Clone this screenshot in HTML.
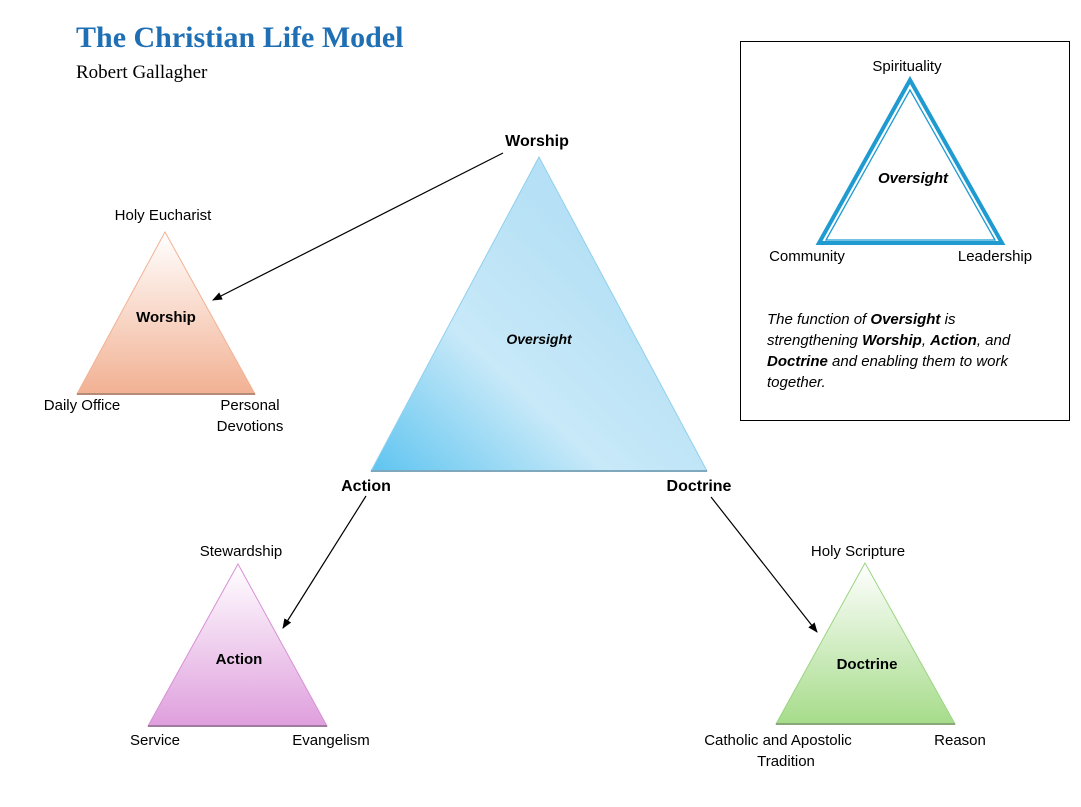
<!DOCTYPE html>
<html><head><style>
body{margin:0;background:#fff;}
svg text{font-family:"Liberation Sans",sans-serif;fill:#000;}
</style></head><body>
<svg width="1081" height="802" viewBox="0 0 1081 802" xmlns="http://www.w3.org/2000/svg">
<defs>
<linearGradient id="gb" x1="0" y1="1" x2="0.7" y2="0.3"><stop offset="0" stop-color="#5ec4f0"/><stop offset="0.5" stop-color="#c8e9f8"/><stop offset="1" stop-color="#b5e0f5"/></linearGradient>
<linearGradient id="go" x1="0" y1="0" x2="0" y2="1"><stop offset="0" stop-color="#fff"/><stop offset="1" stop-color="#f2b193"/></linearGradient>
<linearGradient id="gp" x1="0" y1="0" x2="0" y2="1"><stop offset="0" stop-color="#fff"/><stop offset="1" stop-color="#df9fdd"/></linearGradient>
<linearGradient id="gg" x1="0" y1="0" x2="0" y2="1"><stop offset="0" stop-color="#fff"/><stop offset="1" stop-color="#a6dc8a"/></linearGradient>
<marker id="ar" markerWidth="10" markerHeight="8" refX="9" refY="4" orient="auto" markerUnits="userSpaceOnUse"><path d="M0,0 L10,4 L0,8 z" fill="#000"/></marker>
</defs>
<text x="76" y="47" style="font-family:'Liberation Serif',serif;font-weight:bold;font-size:30px;fill:#1f6fb5">The Christian Life Model</text>
<text x="76" y="78" style="font-family:'Liberation Serif',serif;font-size:19px">Robert Gallagher</text>

<polygon points="539,157 371,471 707,471" fill="url(#gb)" stroke="#8fd0ef" stroke-width="1"/>
<line x1="371" y1="471" x2="707" y2="471" stroke="#7fa8bd" stroke-width="2"/>
<text x="539" y="344" font-size="14" font-weight="bold" font-style="italic" text-anchor="middle">Oversight</text>
<text x="537" y="146" font-size="16" font-weight="bold" text-anchor="middle">Worship</text>
<text x="366" y="491" font-size="16" font-weight="bold" text-anchor="middle">Action</text>
<text x="699" y="491" font-size="16" font-weight="bold" text-anchor="middle">Doctrine</text>

<polygon points="165,232 77,394 255,394" fill="url(#go)" stroke="#f2b193"/>
<line x1="77" y1="394" x2="255" y2="394" stroke="#b58a78" stroke-width="2"/>
<text x="166" y="322" font-size="15" font-weight="bold" text-anchor="middle">Worship</text>
<text x="163" y="220" font-size="15" text-anchor="middle">Holy Eucharist</text>
<text x="82" y="410" font-size="15" text-anchor="middle">Daily Office</text>
<text x="250" y="410" font-size="15" text-anchor="middle">Personal</text>
<text x="250" y="431" font-size="15" text-anchor="middle">Devotions</text>

<polygon points="238,564 148,726 327,726" fill="url(#gp)" stroke="#d98fd6"/>
<line x1="148" y1="726" x2="327" y2="726" stroke="#a07a9f" stroke-width="2"/>
<text x="239" y="664" font-size="15" font-weight="bold" text-anchor="middle">Action</text>
<text x="241" y="556" font-size="15" text-anchor="middle">Stewardship</text>
<text x="155" y="745" font-size="15" text-anchor="middle">Service</text>
<text x="331" y="745" font-size="15" text-anchor="middle">Evangelism</text>

<polygon points="865,563 776,724 955,724" fill="url(#gg)" stroke="#9ad582"/>
<line x1="776" y1="724" x2="955" y2="724" stroke="#88a87a" stroke-width="2"/>
<text x="867" y="669" font-size="15" font-weight="bold" text-anchor="middle">Doctrine</text>
<text x="858" y="556" font-size="15" text-anchor="middle">Holy Scripture</text>
<text x="778" y="745" font-size="15" text-anchor="middle">Catholic and Apostolic</text>
<text x="786" y="766" font-size="15" text-anchor="middle">Tradition</text>
<text x="960" y="745" font-size="15" text-anchor="middle">Reason</text>

<line x1="503" y1="153" x2="213" y2="300" stroke="#000" stroke-width="1.2" marker-end="url(#ar)"/>
<line x1="366" y1="496" x2="283" y2="628" stroke="#000" stroke-width="1.2" marker-end="url(#ar)"/>
<line x1="711" y1="497" x2="817" y2="632" stroke="#000" stroke-width="1.2" marker-end="url(#ar)"/>

<rect x="740.5" y="41.5" width="329" height="379" fill="none" stroke="#000" stroke-width="1"/>
<polygon points="910,80 819,243 1002,243" fill="none" stroke="#1f9bd1" stroke-width="4"/>
<polygon points="910,90 826,240 995,240" fill="none" stroke="#1f9bd1" stroke-width="1.3"/>
<text x="907" y="71" font-size="15" text-anchor="middle">Spirituality</text>
<text x="913" y="183" font-size="15" font-weight="bold" font-style="italic" text-anchor="middle">Oversight</text>
<text x="807" y="261" font-size="15" text-anchor="middle">Community</text>
<text x="995" y="261" font-size="15" text-anchor="middle">Leadership</text>
<g font-size="15" font-style="italic">
<text x="767" y="324">The function of <tspan font-weight="bold">Oversight</tspan> is</text>
<text x="767" y="345">strengthening <tspan font-weight="bold">Worship</tspan>, <tspan font-weight="bold">Action</tspan>, and</text>
<text x="767" y="366"><tspan font-weight="bold">Doctrine</tspan> and enabling them to work</text>
<text x="767" y="387">together.</text>
</g>
</svg>
</body></html>
